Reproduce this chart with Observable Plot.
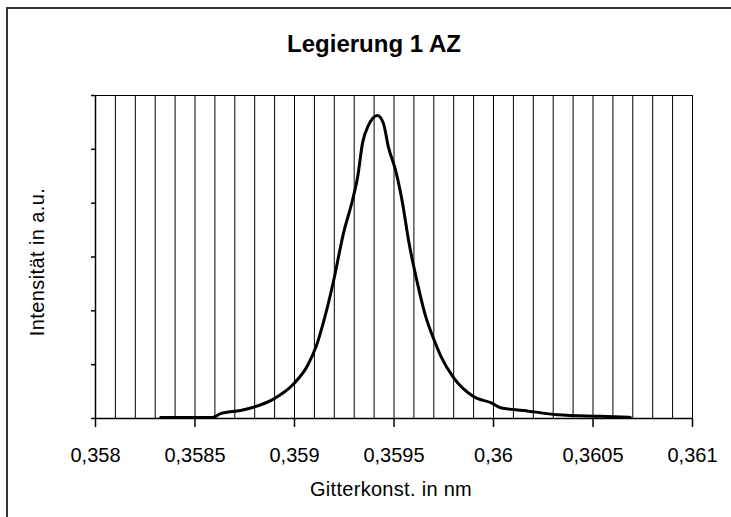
<!DOCTYPE html>
<html>
<head>
<meta charset="utf-8">
<script src="https://cdn.jsdelivr.net/npm/d3@7"></script>
<script src="https://cdn.jsdelivr.net/npm/@observablehq/plot@0.6"></script>
<style>
  html, body { margin: 0; padding: 0; background: #fff; }
  svg { display: block; }
</style>
</head>
<body>
<div id="chart"></div>
<script>
const title = "Legierung 1 AZ";
const xLabel = "Gitterkonst. in nm";
const yLabel = "Intensität in a.u.";

// x tick values and their labels
const xTicks = [0.358, 0.3585, 0.359, 0.3595, 0.36, 0.3605, 0.361];
const xTickLabels = ["0,358", "0,3585", "0,359", "0,3595", "0,36", "0,3605", "0,361"];
// minor vertical grid lines (every 0.0001)
const gridTicks = [0.358, 0.3581, 0.3582, 0.3583, 0.3584, 0.3585, 0.3586, 0.3587, 0.3588, 0.3589,
  0.359, 0.3591, 0.3592, 0.3593, 0.3594, 0.3595, 0.3596, 0.3597, 0.3598, 0.3599,
  0.36, 0.3601, 0.3602, 0.3603, 0.3604, 0.3605, 0.3606, 0.3607, 0.3608, 0.3609, 0.361];
// y ticks (unlabelled)
const yTicks = [0, 1, 2, 3, 4, 5, 6];

// curve: lattice constant (nm) and intensity (a.u.)
const gitter = [0.358327, 0.358588, 0.358628, 0.358729, 0.358794, 0.358894, 0.358995, 0.359065,
  0.359110, 0.359150, 0.359196, 0.359246, 0.359291, 0.359317, 0.359342, 0.359372,
  0.359417, 0.359447, 0.359472, 0.359508, 0.359543, 0.359573, 0.359618, 0.359658, 0.359698,
  0.359734, 0.359799, 0.359899, 0.359995, 0.360035, 0.360151, 0.360322, 0.360538, 0.360688];
const intens = [0.02, 0.02, 0.09, 0.15, 0.21, 0.36, 0.64, 0.98,
  1.35, 1.85, 2.55, 3.44, 4.05, 4.48, 5.12, 5.45,
  5.63, 5.48, 5.04, 4.61, 4.00, 3.31, 2.51, 1.91, 1.49,
  1.17, 0.76, 0.41, 0.28, 0.20, 0.15, 0.07, 0.04, 0.02];

const data = gitter.map((g, i) => ({x: g, y: intens[i]}));
const labelMap = new Map(xTicks.map((t, i) => [t, xTickLabels[i]]));

const font = "'Liberation Sans', Arial, sans-serif";

const chart = Plot.plot({
  width: 731,
  height: 517,
  marginLeft: 95,
  marginRight: 39,
  marginTop: 95,
  marginBottom: 99,
  style: {fontFamily: font, fontSize: "20px", color: "#000", background: "#fff"},
  x: {domain: [0.358, 0.361]},
  y: {domain: [0, 6]},
  marks: [
    Plot.gridX(gridTicks, {stroke: "#000", strokeOpacity: 1, strokeWidth: 1}),
    Plot.frame({stroke: "#000", strokeWidth: 1}),
    Plot.ruleY([0], {stroke: "#000", strokeWidth: 1.5}),
    Plot.ruleX([0.358], {stroke: "#000", strokeWidth: 1.5}),
    Plot.axisX(xTicks, {tickSize: 9, tickPadding: 20, tickFormat: d => labelMap.get(d), label: null, fontSize: 20, stroke: "#000", strokeWidth: 1.5}),
    Plot.axisY(yTicks, {tickSize: 4, tickFormat: () => "", label: null, stroke: "#000", strokeWidth: 1.5}),
    Plot.line(data, {x: "x", y: "y", stroke: "#000", strokeWidth: 3, strokeLinejoin: "round", curve: "monotone-x"})
  ]
});

const svg = d3.select(chart);
svg.insert("rect", ":first-child")
  .attr("x", 7).attr("y", 8).attr("width", 740).attr("height", 530)
  .attr("fill", "none").attr("stroke", "#333").attr("stroke-width", 2);
svg.append("text")
  .attr("x", 374).attr("y", 52)
  .attr("text-anchor", "middle")
  .attr("font-family", font).attr("font-weight", "bold").attr("font-size", 24)
  .text(title);
svg.append("text")
  .attr("x", 391).attr("y", 496)
  .attr("text-anchor", "middle")
  .attr("font-family", font).attr("font-size", 20)
  .attr("letter-spacing", 0.3)
  .text(xLabel);
svg.append("text")
  .attr("transform", "translate(44,262) rotate(-90)")
  .attr("text-anchor", "middle")
  .attr("font-family", font).attr("font-size", 20)
  .attr("letter-spacing", 0.4)
  .text(yLabel);

document.getElementById("chart").appendChild(chart);
</script>
</body>
</html>
